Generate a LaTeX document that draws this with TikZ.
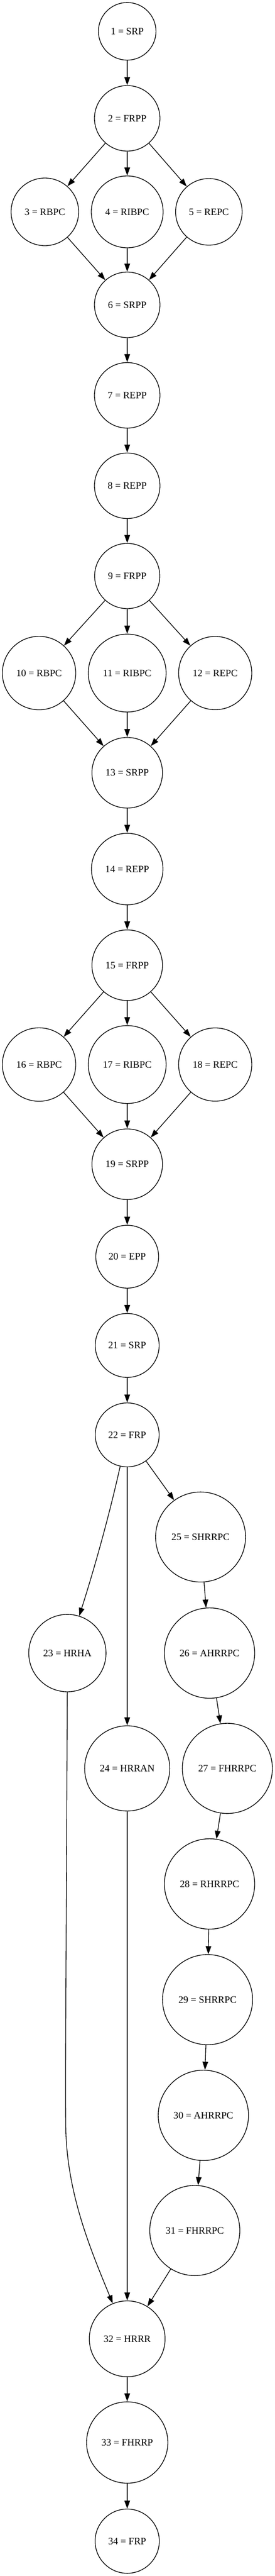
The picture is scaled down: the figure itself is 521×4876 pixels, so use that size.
\documentclass[tikz,border=0pt]{standalone}
\usepackage{fontspec}
\setmainfont{Liberation Serif}
\usetikzlibrary{arrows.meta}
\tikzset{
  nd/.style={circle, draw, line width=1pt, inner sep=0pt, minimum size={#1*1.5pt},
    font=\fontsize{14}{17}\selectfont},
  edge/.style={draw, line width=1pt, -{Triangle[length=11.5pt,width=8pt]}}
}
\begin{document}
\begin{tikzpicture}[x=0.75pt,y=-0.75pt]
\useasboundingbox (0,0) rectangle (521,4876);
\node[nd=54.5] (n1) at (241,59.3) {1 = SRP};
\node[nd=62] (n2) at (241,224) {2 = FRPP};
\node[nd=64] (n3) at (85,401) {3 = RBPC};
\node[nd=68] (n4) at (241,401) {4 = RIBPC};
\node[nd=63] (n5) at (395.7,401) {5 = REPC};
\node[nd=62] (n6) at (241,577) {6 = SRPP};
\node[nd=62] (n7) at (241,748.3) {7 = REPP};
\node[nd=62] (n8) at (241,919.5) {8 = REPP};
\node[nd=61.7] (n9) at (241,1090.3) {9 = FRPP};
\node[nd=69.5] (n10) at (74,1274) {10 = RBPC};
\node[nd=73.7] (n11) at (241,1274) {11 = RIBPC};
\node[nd=69.3] (n12) at (407.7,1274) {12 = REPC};
\node[nd=66.8] (n13) at (241,1462.7) {13 = SRPP};
\node[nd=67.7] (n14) at (241,1645) {14 = REPP};
\node[nd=66.8] (n15) at (241,1827) {15 = FRPP};
\node[nd=69.5] (n16) at (74,2015) {16 = RBPC};
\node[nd=73.7] (n17) at (241,2015) {17 = RIBPC};
\node[nd=69.3] (n18) at (407.7,2015) {18 = REPC};
\node[nd=66.8] (n19) at (241,2203.7) {19 = SRPP};
\node[nd=59.5] (n20) at (241,2378.7) {20 = EPP};
\node[nd=60.5] (n21) at (241,2546.7) {21 = SRP};
\node[nd=60.5] (n22) at (241,2716) {22 = FRP};
\node[nd=73.2] (n23) at (127.7,3129) {23 = HRHA};
\node[nd=80.6] (n24) at (241,3347.3) {24 = HRRAN};
\node[nd=85.2] (n25) at (380,2909.3) {25 = SHRRPC};
\node[nd=85.5] (n26) at (397,3129) {26 = AHRRPC};
\node[nd=85.3] (n27) at (430.7,3347.3) {27 = FHRRPC};
\node[nd=85.5] (n28) at (397,3566) {28 = RHRRPC};
\node[nd=85.3] (n29) at (393.2,3785) {29 = SHRRPC};
\node[nd=85.5] (n30) at (385.3,4004) {30 = AHRRPC};
\node[nd=85.3] (n31) at (369,4222) {31 = FHRRPC};
\node[nd=71.8] (n32) at (241,4427) {32 = HRRR};
\node[nd=77] (n33) at (241,4623.3) {33 = FHRRP};
\node[nd=60.8] (n34) at (241,4810) {34 = FRP};
\coordinate (k23) at (124.5,4020);
\draw[edge] (n1) -- (n2);
\draw[edge] (n2) -- (n3);
\draw[edge] (n2) -- (n4);
\draw[edge] (n2) -- (n5);
\draw[edge] (n3) -- (n6);
\draw[edge] (n4) -- (n6);
\draw[edge] (n5) -- (n6);
\draw[edge] (n6) -- (n7);
\draw[edge] (n7) -- (n8);
\draw[edge] (n8) -- (n9);
\draw[edge] (n9) -- (n10);
\draw[edge] (n9) -- (n11);
\draw[edge] (n9) -- (n12);
\draw[edge] (n10) -- (n13);
\draw[edge] (n11) -- (n13);
\draw[edge] (n12) -- (n13);
\draw[edge] (n13) -- (n14);
\draw[edge] (n14) -- (n15);
\draw[edge] (n15) -- (n16);
\draw[edge] (n15) -- (n17);
\draw[edge] (n15) -- (n18);
\draw[edge] (n16) -- (n19);
\draw[edge] (n17) -- (n19);
\draw[edge] (n18) -- (n19);
\draw[edge] (n19) -- (n20);
\draw[edge] (n20) -- (n21);
\draw[edge] (n21) -- (n22);
\draw[edge] (n22) .. controls (207,2868) and (180,2965) .. (n23);
\draw[edge] (n22) -- (n24);
\draw[edge] (n22) -- (n25);
\draw[edge] (n25) -- (n26);
\draw[edge] (n26) -- (n27);
\draw[edge] (n27) -- (n28);
\draw[edge] (n28) -- (n29);
\draw[edge] (n29) -- (n30);
\draw[edge] (n30) -- (n31);
\draw[edge] (n23) .. controls (126,3600) and (123.5,3900) .. (k23) .. controls (125,4150) and (172.9,4260.7) .. (n32);
\draw[edge] (n24) -- (n32);
\draw[edge] (n31) -- (n32);
\draw[edge] (n32) -- (n33);
\draw[edge] (n33) -- (n34);
\end{tikzpicture}
\end{document}
